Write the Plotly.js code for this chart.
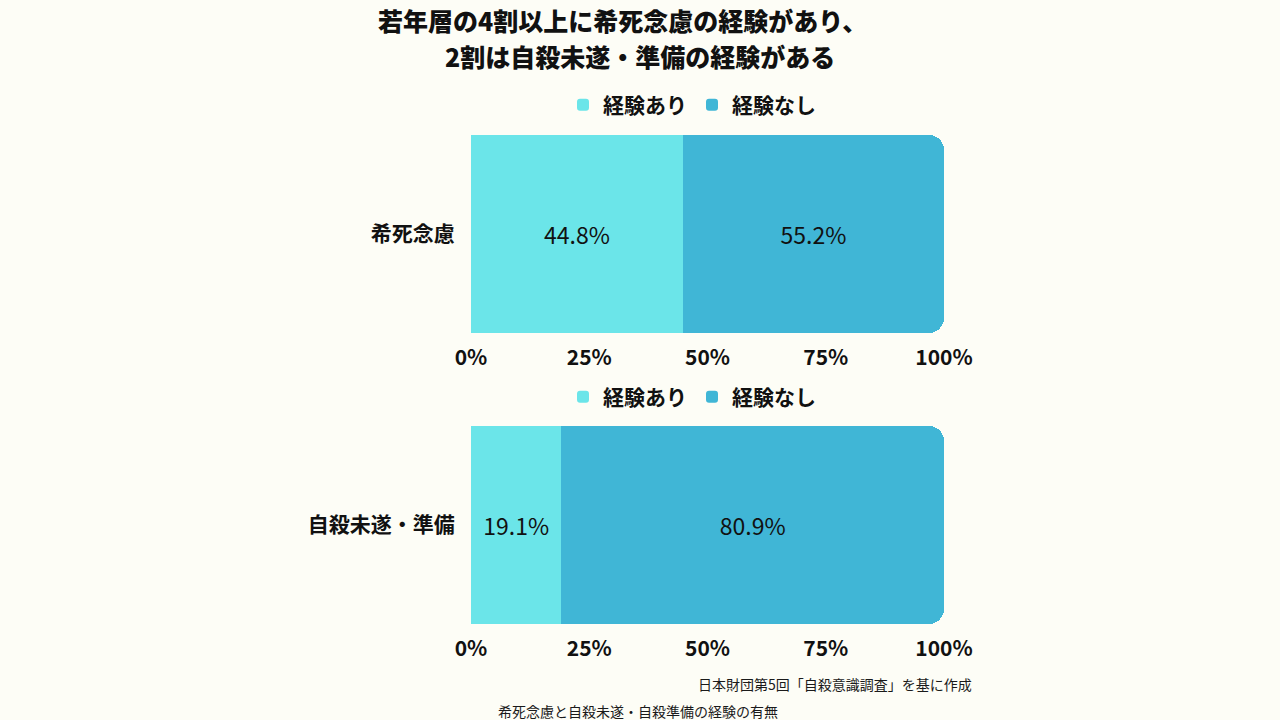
<!DOCTYPE html>
<html><head><meta charset="utf-8">
<script src="https://cdn.plot.ly/plotly-3.0.1.min.js"></script>
<style>html,body{margin:0;padding:0;background:#fdfdf6;}</style>
</head><body>
<div id="chart" style="width:1280px;height:720px;"></div>
<script>
const titleLines = ['若年層の4割以上に希死念慮の経験があり、', '2割は自殺未遂・準備の経験がある'];
const categories1 = ['希死念慮'];
const categories2 = ['自殺未遂・準備'];
const seriesNames = ['経験あり', '経験なし'];
const chart1Values = [[44.8], [55.2]];
const chart2Values = [[19.1], [80.9]];
const tickVals = [0, 25, 50, 75, 100];
const tickText = ['0%', '25%', '50%', '75%', '100%'];
const colors = ['#6be5e9', '#40b6d6'];
const FONT = '"Noto Sans CJK JP", "Noto Sans", sans-serif';

const traces = [];
[[chart1Values, categories1, 'x', 'y', 'legend'], [chart2Values, categories2, 'x2', 'y2', 'legend2']].forEach(([vals, cats, xa, ya, lg]) => {
  vals.forEach((v, i) => {
    traces.push({
      type: 'bar', orientation: 'h', x: v, y: cats, name: seriesNames[i],
      xaxis: xa, yaxis: ya, legend: lg,
      marker: {color: colors[i], line: {width: 0}},
      texttemplate: '%{x:.1f}%', textposition: 'inside', insidetextanchor: 'middle',
      textfont: {size: 23, color: '#111', family: FONT},
      hoverinfo: 'skip'
    });
  });
});

const xaxisBase = {
  range: [0, 100], tickvals: tickVals, ticktext: tickText,
  showgrid: true, gridcolor: '#dcdcd4', gridwidth: 1, zeroline: false,
  showline: false, ticks: 'outside', ticklen: 6, tickcolor: 'rgba(0,0,0,0)',
  tickfont: {size: 21, color: '#111', family: FONT, weight: 'bold'},
  fixedrange: true
};
const yaxisBase = {
  range: [-0.5, 0.5], showgrid: false, zeroline: false, showline: false,
  ticks: 'outside', ticklen: 11, tickcolor: 'rgba(0,0,0,0)',
  tickfont: {size: 21, color: '#111', family: FONT, weight: 'bold'},
  fixedrange: true
};
const legendBase = {
  orientation: 'h', x: 692/1280, xanchor: 'center', yanchor: 'middle',
  font: {size: 21, color: '#111', family: FONT, weight: 'bold'}, bgcolor: 'rgba(0,0,0,0)',
  traceorder: 'normal', itemwidth: 30
};

const layout = {
  width: 1280, height: 720,
  paper_bgcolor: '#fdfdf6', plot_bgcolor: '#fdfdf6',
  margin: {l: 0, r: 0, t: 0, b: 0},
  barmode: 'stack', bargap: 0, barcornerradius: 15,
  font: {family: FONT, color: '#111'},
  xaxis: Object.assign({}, xaxisBase, {domain: [471/1280, 944/1280], anchor: 'y'}),
  yaxis: Object.assign({}, yaxisBase, {domain: [1 - 333/720, 1 - 135/720], anchor: 'x'}),
  xaxis2: Object.assign({}, xaxisBase, {domain: [471/1280, 944/1280], anchor: 'y2'}),
  yaxis2: Object.assign({}, yaxisBase, {domain: [1 - 624/720, 1 - 426/720], anchor: 'x2'}),
  legend: Object.assign({}, legendBase, {y: 1 - 105/720}),
  legend2: Object.assign({}, legendBase, {y: 1 - 397/720}),
  annotations: [
    {text: titleLines[0], xref: 'paper', yref: 'paper',
     x: 376/1280, xanchor: 'left', y: 1 - 20/720, yanchor: 'middle', showarrow: false,
     font: {size: 25, color: '#111', family: FONT, weight: 900}},
    {text: titleLines[1], xref: 'paper', yref: 'paper',
     x: 640/1280, xanchor: 'center', y: 1 - 56/720, yanchor: 'middle', showarrow: false,
     font: {size: 25, color: '#111', family: FONT, weight: 900}},
    {text: '日本財団第5回「自殺意識調査」を基に作成', xref: 'paper', yref: 'paper',
     x: 974/1280, xanchor: 'right', y: 1 - 684/720, yanchor: 'middle', showarrow: false,
     font: {size: 14, color: '#1a1a1a', family: FONT}},
    {text: '希死念慮と自殺未遂・自殺準備の経験の有無', xref: 'paper', yref: 'paper',
     x: 496/1280, xanchor: 'left', y: 1 - 711/720, yanchor: 'middle', showarrow: false,
     font: {size: 14, color: '#1a1a1a', family: FONT}}
  ]
};

Plotly.newPlot('chart', traces, layout, {displayModeBar: false, staticPlot: true});
</script>
</body></html>
